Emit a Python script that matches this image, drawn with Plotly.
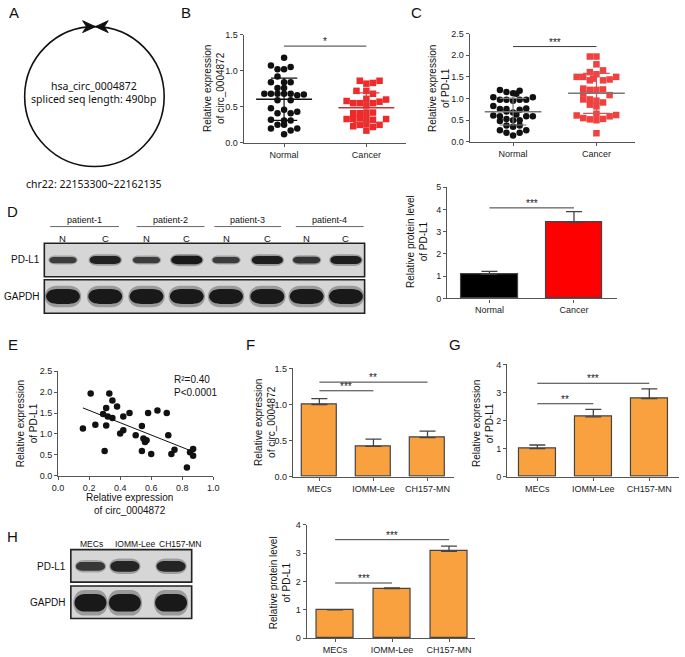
import numpy as np
import plotly.graph_objects as go

W, H = 685, 657
def px(x): return x / W
def py(y): return 1 - y / H

# ---------------- data ----------------
# Panel B: circ_0004872 expression (value, horizontal swarm slot)
b_categories = ["Normal", "Cancer"]
b_normal = [1.18, 1.07, 1.02, 1.02, 1.05, 0.92, 0.84, 0.84, 0.84, 0.76, 0.76, 0.68, 0.68, 0.68, 0.68,
            0.68, 0.66, 0.67, 0.59, 0.59, 0.48, 0.46, 0.43, 0.41, 0.41, 0.32, 0.31, 0.31, 0.25, 0.25,
            0.20, 0.20, 0.17, 0.12]
b_normal_slot = [0, -2, -1, 0, 1, -1, -2, 0, 1, -1, 0, -3, -2, -1, 0,
                 1, 2, 3, -1, 1, -2, 0, 2, -1, 1, -2, 0, 1, -1, 0,
                 -2, 2, 1, 0]
b_cancer = [0.86, 0.86, 0.82, 0.83, 0.72, 0.72, 0.68, 0.61, 0.60, 0.58, 0.55, 0.55, 0.52, 0.55, 0.57,
            0.41, 0.41, 0.42, 0.42, 0.33, 0.33, 0.34, 0.34, 0.32, 0.33, 0.23, 0.25, 0.26, 0.25, 0.22, 0.17]
b_cancer_slot = [-1, 2, 0, 1, -1.5, 0, 1, 0, 3, -3, -2, -1, 0, 1, 2,
                 -2, -1, 0, 1, -3, -2, -1, 0, 1, 3, -2, -1, 0, 2, 1, 0]

# Panel C: PD-L1 expression
c_categories = ["Normal", "Cancer"]
c_normal = [1.20, 1.15, 1.12, 1.11, 1.18, 1.03, 0.97, 0.97, 0.95, 0.97, 0.97, 1.03, 0.83, 0.76, 0.76,
            0.74, 0.77, 0.70, 0.68, 0.61, 0.59, 0.63, 0.59, 0.59, 0.48, 0.53, 0.50, 0.50, 0.38, 0.27,
            0.35, 0.38, 0.21, 0.15, 0.21, 0.27]
c_normal_slot = [-2, -1, 0, 0.5, 1, -3, -2, -1, 0, 1, 2, 3, -3, -2, -1,
                 1, 2, -1, 0, -3, -2, 0.5, 2, 3, -2, -1, 0, 1, -1, -2,
                 0, 1, -1, 0, 1, 2]
c_cancer = [1.97, 1.97, 1.79, 1.61, 1.65, 1.50, 1.50, 1.56, 1.42, 1.44, 1.50, 1.42, 1.46, 1.23, 1.20,
            1.20, 1.21, 1.12, 1.08, 0.98, 0.95, 0.91, 0.98, 0.86, 0.82, 0.61, 0.65, 0.62, 0.59, 0.55,
            0.52, 0.50, 0.53, 0.20]
c_cancer_slot = [-1, 0, 0, -1, 1, -3, -2, 0, 1, 2, 3, -1, -0.5, -2, -1,
                 0, 1, -2, 2, -1, 0, 1, -2, -1, 0, -3, 0, 3, 2, -2,
                 -1, 0, 1, 0]

# Panel D: western blot + quantification
d_patients = ["patient-1", "patient-2", "patient-3", "patient-4"]
d_lanes = ["N", "C", "N", "C", "N", "C", "N", "C"]
d_pdl1_band = [0.55, 0.9, 0.55, 1.0, 0.55, 0.95, 0.65, 0.95]
d_gapdh_band = [1.0, 1.0, 1.0, 1.0, 1.0, 1.0, 1.0, 1.0]
d_categories = ["Normal", "Cancer"]
d_values = [1.10, 3.42]
d_errors = [0.12, 0.48]

# Panel E: correlation
e_circ = [0.16, 0.21, 0.24, 0.29, 0.31, 0.31, 0.32, 0.33, 0.35, 0.35, 0.38, 0.30, 0.40, 0.42, 0.42,
          0.46, 0.50, 0.54, 0.54, 0.55, 0.56, 0.57, 0.58, 0.60, 0.64, 0.70, 0.71, 0.73, 0.75, 0.83,
          0.85, 0.87, 0.87]
e_pdl1 = [1.13, 1.97, 1.22, 1.48, 1.62, 1.20, 1.42, 1.97, 1.38, 1.80, 1.66, 0.59, 1.01, 1.09, 1.42,
          1.50, 0.97, 0.59, 1.19, 0.89, 0.81, 0.85, 1.50, 0.52, 1.56, 1.50, 0.97, 0.52, 0.62, 0.20,
          0.56, 0.64, 0.48]

# Panels F, G, H: cell lines
cell_lines = ["MECs", "IOMM-Lee", "CH157-MN"]
f_values = [1.00, 0.42, 0.54]
f_errors = [0.08, 0.10, 0.09]
g_values = [1.00, 2.13, 2.78]
g_errors = [0.13, 0.27, 0.35]
h_pdl1_band = [0.6, 0.85, 0.85]
h_gapdh_band = [1.0, 1.0, 1.0]
h_values = [1.00, 1.75, 3.07]
h_errors = [0.0, 0.03, 0.18]

# ---------------- style ----------------
FONT = "Liberation Sans"
ORANGE = "#F9A13E"
AX = "#555555"
RED = "#EE2A2A"

fig = go.Figure()
shapes = []
annots = []

def ann(x, y, text, size=10, xanchor="center", yanchor="middle", angle=0, family=FONT, color="#111111"):
    annots.append(dict(x=px(x), y=py(y), xref="paper", yref="paper", text=text, showarrow=False,
                       xanchor=xanchor, yanchor=yanchor, textangle=angle,
                       font=dict(family=family, size=size, color=color)))

def axis_style(**kw):
    d = dict(showline=True, linecolor=AX, linewidth=1.2, ticks="outside", ticklen=3, tickwidth=1,
             tickcolor=AX, showgrid=False, zeroline=False, fixedrange=True,
             tickfont=dict(family=FONT, size=9, color="#222222"))
    d.update(kw)
    return d

layout_axes = {}
def add_axes(n, xdom, ydom, xr, yr, xkw=None, ykw=None):
    xs = "xaxis" if n == 1 else f"xaxis{n}"
    ys = "yaxis" if n == 1 else f"yaxis{n}"
    an_x = "y" if n == 1 else f"y{n}"
    an_y = "x" if n == 1 else f"x{n}"
    layout_axes[xs] = axis_style(domain=[px(xdom[0]), px(xdom[1])], range=xr, anchor=an_x, **(xkw or {}))
    layout_axes[ys] = axis_style(domain=[py(ydom[1]), py(ydom[0])], range=yr, anchor=an_y, **(ykw or {}))

def ref(n):
    return ("x", "y") if n == 1 else (f"x{n}", f"y{n}")

def sig(n, x0, x1, y, stars):
    xr, yr = ref(n)
    fig.add_trace(go.Scatter(x=[x0, x1], y=[y, y], mode="lines", line=dict(color="#3a3a3a", width=1),
                             xaxis=xr, yaxis=yr, showlegend=False, hoverinfo="skip"))
    annots.append(dict(x=(x0 + x1) / 2, y=y, xref=xr, yref=yr, text=stars, showarrow=False,
                       yanchor="bottom", yshift=-3, font=dict(family=FONT, size=10, color="#1a1a1a")))

def swarm(n, vals, slots, center, unit, marker, line_col_mean, line_col_sd):
    xr, yr = ref(n)
    xs = [center + s * unit for s in slots]
    fig.add_trace(go.Scatter(x=xs, y=vals, mode="markers", marker=marker, xaxis=xr, yaxis=yr,
                             showlegend=False, cliponaxis=False))
    m = float(np.mean(vals)); sd = float(np.std(vals, ddof=1))
    fig.add_trace(go.Scatter(x=[center - 0.34, center + 0.34], y=[m, m], mode="lines",
                             line=dict(color=line_col_mean, width=1.5), xaxis=xr, yaxis=yr, showlegend=False))
    fig.add_trace(go.Scatter(x=[center - 0.16, center + 0.16, None, center - 0.16, center + 0.16, None, center, center],
                             y=[m + sd, m + sd, None, m - sd, m - sd, None, m - sd, m + sd], mode="lines",
                             line=dict(color=line_col_sd, width=1.2), xaxis=xr, yaxis=yr, showlegend=False))

def bars(n, vals, errs, colors, width):
    xr, yr = ref(n)
    fig.add_trace(go.Bar(x=list(range(len(vals))), y=vals, width=width,
                         marker=dict(color=colors, line=dict(color="#444444", width=1.2)),
                         error_y=dict(type="data", array=errs, arrayminus=[0] * len(errs), symmetric=False,
                                      color="#444444", thickness=1.3, width=8),
                         xaxis=xr, yaxis=yr, showlegend=False))

# ---------------- Panel A ----------------
ann(8, 8, "A", size=15)
shapes.append(dict(type="circle", xref="paper", yref="paper", x0=px(19), x1=px(161), y0=py(22), y1=py(164),
                   line=dict(color="#111", width=1.6)))
shapes.append(dict(type="path", xref="paper", yref="paper",
                   path=f"M {px(78)},{py(16)} L {px(91)},{py(22)} L {px(78)},{py(28)} L {px(82)},{py(22)} Z",
                   fillcolor="#111", line=dict(color="#111", width=1)))
shapes.append(dict(type="path", xref="paper", yref="paper",
                   path=f"M {px(104)},{py(16)} L {px(91)},{py(22)} L {px(104)},{py(28)} L {px(100)},{py(22)} Z",
                   fillcolor="#111", line=dict(color="#111", width=1)))
ann(90, 82, "hsa_circ_0004872", size=10.5, family="Noto Sans")
ann(90, 95, "spliced seq length: 490bp", size=10.5, family="Noto Sans")
ann(90, 182, "chr22: 22153300~22162135", size=10.5, family="Noto Sans")

# ---------------- Panel B ----------------
ann(183, 8, "B", size=15)
add_axes(1, (242, 407), (30, 140), [-0.49, 1.48], [0, 1.5001],
         xkw=dict(tickvals=[0, 1], ticktext=b_categories),
         ykw=dict(tickvals=[0, 0.5, 1.0, 1.5], tickformat=".1f"))
swarm(1, b_normal, b_normal_slot, 0, 0.08, dict(color="#111", size=6.5, symbol="circle"), "#111", "#111")
swarm(1, b_cancer, b_cancer_slot, 1, 0.08, dict(color=RED, size=6.5, symbol="square"), "#C83232", "#D84040")
sig(1, 0, 1, 1.34, "*")
ann(211, 85, "Relative expression<br>of circ_0004872", size=10, angle=-90)

# ---------------- Panel C ----------------
ann(418, 8, "C", size=15)
add_axes(2, (472, 640), (29, 139), [-0.52, 1.46], [0, 2.5001],
         xkw=dict(tickvals=[0, 1], ticktext=c_categories),
         ykw=dict(tickvals=[0, 0.5, 1.0, 1.5, 2.0, 2.5], tickformat=".1f"))
swarm(2, c_normal, c_normal_slot, 0, 0.079, dict(color="#111", size=6.5, symbol="circle"), "#777", "#777")
swarm(2, c_cancer, c_cancer_slot, 1, 0.079, dict(color="#F04040", size=6.5, symbol="square"), "#777", "#E05050")
sig(2, 0, 1, 2.2, "***")
ann(440, 85, "Relative expression<br>of PD-L1", size=10, angle=-90)

# ---------------- Panel D ----------------
ann(7, 210, "D", size=15)
d_lane_x = [58, 101, 143, 184, 224, 266, 306, 346]
d_patient_spans = [(45, 115), (133, 202), (212, 280), (295, 364)]

def pill(cx, cy, w, h):
    x0, x1, y0, y1 = cx - w / 2, cx + w / 2, cy - h / 2, cy + h / 2
    e = min(h * 0.8, w / 3)
    return (f"M {px(x0 + e)},{py(y0)} L {px(x1 - e)},{py(y0)} "
            f"C {px(x1 + e * 0.3)},{py(y0)} {px(x1 + e * 0.3)},{py(y1)} {px(x1 - e)},{py(y1)} "
            f"L {px(x0 + e)},{py(y1)} "
            f"C {px(x0 - e * 0.3)},{py(y1)} {px(x0 - e * 0.3)},{py(y0)} {px(x0 + e)},{py(y0)} Z")

def band(cx, cy, w, h, k):
    g = int(18 + (1 - k) * 80)
    col = f"rgb({g},{g},{g})"
    shapes.append(dict(type="path", xref="paper", yref="paper", path=pill(cx, cy, w * 1.08, h * 1.45),
                       fillcolor=col, opacity=0.3, line=dict(width=0)))
    shapes.append(dict(type="path", xref="paper", yref="paper", path=pill(cx, cy, w, h),
                       fillcolor=col, opacity=0.95, line=dict(width=0)))

def blot_box(x0, x1, y0, y1):
    shapes.append(dict(type="rect", xref="paper", yref="paper", x0=px(x0), x1=px(x1), y0=py(y0), y1=py(y1),
                       fillcolor="#D6D6D6", line=dict(color="#222", width=1.6)))

for (a, b), name in zip(d_patient_spans, d_patients):
    ann((a + b) / 2, 218, name, size=9)
    shapes.append(dict(type="line", xref="paper", yref="paper", x0=px(a), x1=px(b), y0=py(225), y1=py(225),
                       line=dict(color="#666", width=1)))
for x, lab in zip(d_lane_x, d_lanes):
    ann(x, 237, lab, size=9.5)
blot_box(39, 365, 242, 276)
blot_box(39, 365, 279, 313)
for x, k, lab in zip(d_lane_x, d_pdl1_band, d_lanes):
    w = 28 if lab == "N" else 32
    band(x, 259, w, 3.5 + 5 * k, k)
for x, k in zip(d_lane_x, d_gapdh_band):
    band(x, 296, 35, 15 * k, k)
ann(37, 258, "PD-L1", size=10, xanchor="right")
ann(37, 296, "GAPDH", size=10, xanchor="right")

add_axes(3, (449, 622), (185, 298), [-0.5, 1.51], [0, 5.0001],
         xkw=dict(tickvals=[0, 1], ticktext=d_categories),
         ykw=dict(tickvals=[0, 1, 2, 3, 4, 5]))
bars(3, d_values, d_errors, ["#000000", "#FF0000"], 0.67)
sig(3, 0, 1, 4.07, "***")
ann(419, 240, "Relative protein level<br>of PD-L1", size=10, angle=-90)

# ---------------- Panel E ----------------
ann(7, 345, "E", size=15)
add_axes(4, (53, 211), (372, 478), [0, 1.0], [0, 2.5001],
         xkw=dict(tickvals=[0, 0.2, 0.4, 0.6, 0.8, 1.0], tickformat=".1f"),
         ykw=dict(tickvals=[0, 0.5, 1.0, 1.5, 2.0, 2.5], tickformat=".1f"))
fig.add_trace(go.Scatter(x=e_circ, y=e_pdl1, mode="markers", marker=dict(color="#111", size=6.5),
                         xaxis="x4", yaxis="y4", showlegend=False, cliponaxis=False))
slope, icpt = np.polyfit(e_circ, e_pdl1, 1)
xl = np.array([min(e_circ), max(e_circ)])
fig.add_trace(go.Scatter(x=xl, y=slope * xl + icpt, mode="lines", line=dict(color="#111", width=1),
                         xaxis="x4", yaxis="y4", showlegend=False))
ann(169, 380, "R²=0.40", size=10, xanchor="left")
ann(169, 393, "P<0.0001", size=10, xanchor="left")
ann(21, 425, "Relative expression<br>of PD-L1", size=10, angle=-90)
ann(126, 507, "Relative expression<br>of circ_0004872", size=10)

# ---------------- Panel F ----------------
ann(249, 345, "F", size=15)
add_axes(5, (292, 456), (369, 479), [-0.49, 2.49], [0, 1.5001],
         xkw=dict(tickvals=[0, 1, 2], ticktext=cell_lines),
         ykw=dict(tickvals=[0, 0.5, 1.0, 1.5], tickformat=".1f"))
bars(5, f_values, f_errors, ORANGE, 0.65)
sig(5, 0, 1, 1.19, "***")
sig(5, 0, 2, 1.31, "**")
ann(263, 424, "Relative expression<br>of circ_0004872", size=10, angle=-90)

# ---------------- Panel G ----------------
ann(457, 345, "G", size=15)
add_axes(6, (510, 685), (365, 479), [-0.54, 2.53], [0, 4.0001],
         xkw=dict(tickvals=[0, 1, 2], ticktext=cell_lines),
         ykw=dict(tickvals=[0, 1, 2, 3, 4]))
bars(6, g_values, g_errors, ORANGE, 0.66)
sig(6, 0, 1, 2.6, "**")
sig(6, 0, 2, 3.33, "***")
ann(485, 425, "Relative expression<br>of PD-L1", size=10, angle=-90)

# ---------------- Panel H ----------------
ann(7, 540, "H", size=15)
h_label_x = [87, 131, 178]
h_band_x = [86, 121, 168]
for x, lab in zip(h_label_x, cell_lines):
    ann(x, 547, lab, size=8.5)
blot_box(66, 189, 553, 586)
blot_box(66, 189, 590, 623)
for x, k in zip(h_band_x, h_pdl1_band):
    band(x, 570, 30, 4 + 8 * k, k)
for x, k in zip(h_band_x, h_gapdh_band):
    band(x, 607, 33, 18 * k, k)
ann(63, 570, "PD-L1", size=10, xanchor="right")
ann(63, 607, "GAPDH", size=10, xanchor="right")

add_axes(7, (306, 477), (528, 643), [-0.5, 2.45], [0, 4.0001],
         xkw=dict(tickvals=[0, 1, 2], ticktext=cell_lines),
         ykw=dict(tickvals=[0, 1, 2, 3, 4]))
bars(7, h_values, h_errors, ORANGE, 0.64)
sig(7, 0, 1, 1.95, "***")
sig(7, 0, 2, 3.48, "***")
ann(279, 587, "Relative protein level<br>of PD-L1", size=10, angle=-90)

fig.update_layout(width=W, height=H, margin=dict(l=0, r=0, t=0, b=0, pad=0),
                  paper_bgcolor="white", plot_bgcolor="white",
                  font=dict(family=FONT, size=10, color="#111"),
                  shapes=shapes, annotations=annots, showlegend=False, bargap=0, **layout_axes)

fig.write_html("out.html", config={"displayModeBar": False},
               post_script="document.body.style.margin='0';")
